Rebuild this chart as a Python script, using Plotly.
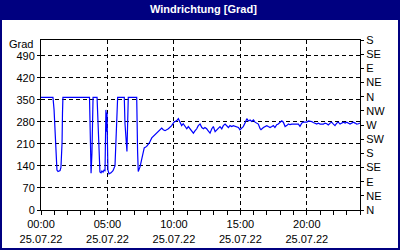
import plotly.graph_objects as go

# --- data (time of day, wind direction in degrees) ---
times = ["00:00","00:54","00:59","01:03","01:08","01:12","01:17","01:26","01:30","01:35","01:37","01:39",
         "03:39","03:41","03:43","03:46","03:50","03:55",
         "04:13","04:17","04:22","04:26","04:31","04:35","04:40","04:44","04:49","04:53","04:56","04:58","05:00","05:02","05:07","05:16","05:25","05:34","05:46",
         "06:16","06:19","06:24","06:28","06:34",
         "07:12","07:16","07:19","07:27","07:35","07:46","07:57","08:09","08:20","08:35","08:50","09:05","09:12","09:20","09:35","09:42","09:50",
         "10:00","10:13","10:20","10:28","10:35","10:42","10:50","10:58","11:05","11:13","11:20","11:28","11:35","11:43","11:50","11:58",
         "12:06","12:13","12:20","12:28","12:35","12:43","12:51","12:58","13:06","13:13","13:20","13:28","13:36","13:43","13:51","13:58",
         "14:06","14:13","14:21","14:28","14:36","14:51","14:58","15:06","15:13","15:21","15:29","15:36","15:44","15:51","15:59",
         "16:06","16:14","16:21","16:29","16:33","16:44","16:51","16:59","17:06","17:14","17:22","17:29","17:36","17:44","17:51","17:59",
         "18:07","18:14","18:22","18:29","18:37","18:44","18:52","19:07","19:22","19:29","19:37","19:44","19:52",
         "20:00","20:07","20:15","20:22","20:29","20:45","20:52","21:00","21:15","21:22","21:30","21:37","21:45","21:52",
         "22:00","22:07","22:15","22:22","22:30","22:38","22:45","22:53","23:00","23:15","23:23","23:30","23:38","23:45","23:53","23:59"]
values = [358,358,318,245,165,127,122,125,135,213,308,358,
          358,302,181,117,181,358,
          358,300,184,121,118,124,120,126,125,318,249,310,213,127,115,118,125,140,358,
          358,276,223,186,358,
          358,186,122,137,165,197,202,213,229,240,249,260,255,252,258,262,268,
          279,284,290,279,268,274,264,258,265,258,251,244,251,258,268,273,
          262,258,262,258,251,244,258,265,249,255,258,265,258,268,273,268,
          262,268,265,268,265,262,255,260,265,276,290,283,286,281,286,
          279,276,273,258,255,262,265,268,265,262,265,268,262,271,273,279,
          283,279,265,268,273,271,273,273,273,266,276,279,280,
          279,283,283,281,278,273,276,273,273,276,274,270,276,279,
          273,268,276,279,273,276,279,276,279,273,276,279,276,273,274,276]

day = "2022-07-25"
x_ticks_h = [0, 5, 10, 15, 20]
y_left_ticks = [0, 70, 140, 210, 280, 350, 420, 490]
y_right_ticks = [0, 45, 90, 135, 180, 225, 270, 315, 360, 405, 450, 495, 540]
y_right_text = ["N", "NE", "E", "SE", "S", "SW", "W", "NW", "N", "NE", "E", "SE", "S"]

title_text = "Windrichtung [Grad]"
unit_text = "Grad"

x = [f"{day} {t}:00" for t in times]

FONT = "Liberation Sans Narrow, Arial Narrow, Liberation Sans, Arial, sans-serif"
NAVY = "#000080"

fig = go.Figure()
fig.add_trace(go.Scatter(x=x, y=values, mode="lines",
                         line=dict(color="#0000FF", width=1.2), hoverinfo="skip"))
fig.add_trace(go.Scatter(x=x, y=values, mode="lines", yaxis="y2",
                         line=dict(color="rgba(0,0,0,0)", width=0), hoverinfo="skip"))

L, R, T, B = 41, 40, 40, 40
W, H = 400, 250
pw, ph = W - L - R, H - T - B

def px_x(p):
    return (p - L) / pw

def px_y(p):
    return (H - B - p) / ph

fig.update_layout(
    width=W, height=H,
    margin=dict(l=L, r=R, t=T, b=B, autoexpand=False),
    paper_bgcolor="white", plot_bgcolor="white",
    showlegend=False,
    font=dict(family=FONT, size=11, color="black"),
    xaxis=dict(
        type="date", automargin=False,
        range=[f"{day} 00:00:00", "2022-07-26 00:00:00"],
        tickvals=[f"{day} {h:02d}:00:00" for h in x_ticks_h],
        tickformat="%H:%M<br>%d.%m.%y",
        ticks="outside", ticklen=4, tickcolor="black",
        showline=True, linecolor="black", linewidth=1, mirror=True,
        showgrid=True, gridcolor="black", gridwidth=1, griddash="4px,3px",
        zeroline=False,
        minor=dict(dtick=3600000, ticks="outside", ticklen=4, tickcolor="black", showgrid=False),
        tickfont=dict(family=FONT, size=11, color="black"),
    ),
    yaxis=dict(
        range=[0, 540], tickvals=y_left_ticks, automargin=False,
        ticks="outside", ticklen=3, tickcolor="black",
        showline=True, linecolor="black", linewidth=1, mirror=True,
        showgrid=True, gridcolor="black", gridwidth=1, griddash="4px,3px",
        zeroline=False,
        tickfont=dict(family=FONT, size=11, color="black"),
    ),
    yaxis2=dict(
        overlaying="y", side="right", range=[0, 540], automargin=False,
        tickvals=y_right_ticks, ticktext=y_right_text,
        ticks="outside", ticklen=3, tickcolor="black",
        showline=True, linecolor="black", linewidth=1,
        showgrid=False, zeroline=False,
        tickfont=dict(family=FONT, size=11, color="black"),
    ),
    shapes=[
        dict(type="rect", xref="paper", yref="paper", layer="below",
             x0=px_x(0), x1=px_x(W), y0=px_y(20), y1=px_y(0),
             fillcolor=NAVY, line=dict(width=0)),
        dict(type="rect", xref="paper", yref="paper", layer="below",
             x0=px_x(1), x1=px_x(W - 1), y0=px_y(H - 1), y1=px_y(1),
             fillcolor="rgba(0,0,0,0)", line=dict(color=NAVY, width=2)),
    ],
    annotations=[
        dict(text=f"<b>{title_text}</b>", xref="paper", yref="paper",
             x=px_x(203), y=px_y(9.5), xanchor="center", yanchor="middle",
             showarrow=False, font=dict(family="Liberation Sans, Arial, sans-serif", size=11, color="white")),
        dict(text=unit_text, xref="paper", yref="paper",
             x=px_x(35), y=px_y(43.5), xanchor="right", yanchor="middle",
             showarrow=False, font=dict(family=FONT, size=11, color="black")),
    ],
)

fig.write_html("out.html")
